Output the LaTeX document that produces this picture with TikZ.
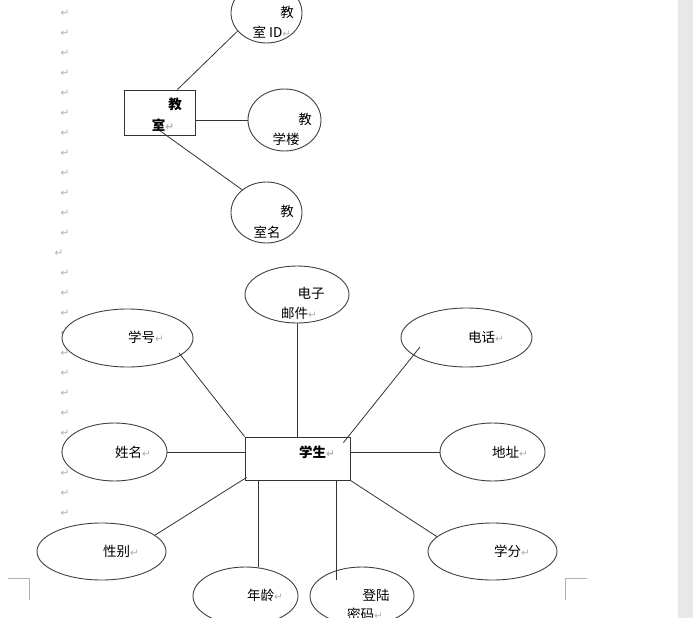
\documentclass[tikz,border=0pt]{standalone}
\usepackage{fontspec}
\setmainfont{Noto Sans CJK SC}
\newfontfamily\arrowfont{DejaVu Sans}
\usetikzlibrary{shapes.geometric,calc}
\newcommand{\pmark}{{\arrowfont\fontsize{10.5}{10.5}\selectfont\color{gray!60}↵}}
\tikzset{
  entity/.style={draw=black!80,fill=white,line width=0.9pt,inner sep=0pt},
  attr/.style={ellipse,draw=black!75,fill=white,line width=0.9pt,inner sep=0pt,
    minimum width=105pt,minimum height=58pt},
  wideattr/.style={attr,minimum width=130pt,minimum height=58pt},
  roomattr/.style={attr,minimum width=71pt,minimum height=61pt},
  lbl/.style={font=\fontsize{13.5}{15}\selectfont,inner sep=0pt},
  bodylbl/.style={lbl,font=\fontsize{13.5}{15}\selectfont\bfseries},
  link/.style={draw=black!80,line width=0.8pt}
}
\begin{document}
\begin{tikzpicture}[x=1pt,y=-1pt]
  \useasboundingbox (0,0) rectangle (693,618);
  % --- page: margin marks, corner marks, side strip ---
  \fill[gray!18] (678,0) rectangle (693,618);
  \foreach \y in {13,33,...,233} \node[lbl] (pm\y) at (65,\y) {\pmark};
  \node[lbl] (pm253) at (59,253) {\pmark};
  \foreach \y in {273,293,...,513} \node[lbl] (pm\y) at (65,\y) {\pmark};
  \draw[gray!60,line width=0.8pt] (8,578) -- (29,578) -- (29,600);
  \draw[gray!60,line width=0.8pt] (587,578) -- (565,578) -- (565,600);

  % --- classroom entity and its attributes ---
  \node[entity,minimum width=71pt,minimum height=45pt] (room) at (159.5,112.5) {};
  \node[roomattr,minimum height=60pt] (roomid) at (266.5,13) {};
  \node[roomattr,minimum width=73pt,minimum height=62pt] (building) at (284.5,120) {};
  \node[roomattr] (roomname) at (266.5,212.5) {};
  \draw[link] (room.52) -- (roomid.212);
  \draw[link] (room.-13.5) -- (room.-13.5 -| building.west);
  \draw[link] ($(room.south)+(0,-5)$) -- (roomname.137);
  \node[bodylbl] (roomt1) at (175,104) {教};
  \node[bodylbl] (roomt2) at (163,125) {室\pmark};
  \node[lbl] (roomidt1) at (287,12) {教};
  \node[lbl] (roomidt2) at (272,32) {室 ID\pmark};
  \node[lbl] (buildingt1) at (305,119) {教};
  \node[lbl] (buildingt2) at (286,139) {学楼};
  \node[lbl] (roomnamet1) at (287,211) {教};
  \node[lbl] (roomnamet2) at (267,232) {室名};

  % --- student entity and its attributes ---
  \node[entity,minimum width=105pt,minimum height=43pt] (student) at (297.5,458.5) {};
  \node[attr,minimum width=104pt,minimum height=57pt] (email) at (297,294.5) {};
  \node[wideattr,minimum width=131pt] (sid) at (127.5,338) {};
  \node[wideattr,minimum width=131pt,minimum height=59pt] (phone) at (466.5,337.5) {};
  \node[attr] (name) at (114.5,452) {};
  \node[attr] (addr) at (492.5,452) {};
  \node[wideattr,minimum width=129pt,minimum height=57pt] (gender) at (101.5,551.5) {};
  \node[wideattr,minimum width=129pt,minimum height=57pt] (credit) at (492.5,551.5) {};
  \node[attr] (age) at (245.5,596) {};
  \node[attr,minimum width=104pt] (pwd) at (362,596) {};
  \coordinate (pwdend) at ($(pwd)+(-26,-16)$);
  \draw[link] (email.south) -- (email.south |- student.north);
  \draw[link] ($(sid)+(51.5,15)$) -- (student.north west);
  \draw[link] ($(phone)+(-46.5,9.5)$) -- ($(student.north east)+(-7,6)$);
  \draw[link] (name.east) -- (name.east -| student.west);
  \draw[link] (addr.west) -- (addr.west -| student.east);
  \draw[link] (gender.17) -- ($(student.south west)+(2,-3)$);
  \draw[link] (student.south east) -- (credit.165);
  \draw[link] (age.66) -- (age.66 |- student.south);
  \draw[link] (pwdend) -- (pwdend |- student.south);
  \node[bodylbl] (studentt) at (317,452) {学生\pmark};
  \node[lbl] (emailt1) at (311,293) {电子};
  \node[lbl] (emailt2) at (299,313) {邮件\pmark};
  \node[lbl] (sidt) at (146,337) {学号\pmark};
  \node[lbl] (phonet) at (486,337) {电话\pmark};
  \node[lbl] (namet) at (133,452) {姓名\pmark};
  \node[lbl] (addrt) at (510,452) {地址\pmark};
  \node[lbl] (gendert) at (121,551) {性别\pmark};
  \node[lbl] (creditt) at (512,551) {学分\pmark};
  \node[lbl] (aget) at (265,595) {年龄\pmark};
  \node[lbl] (pwdt1) at (376,595) {登陆};
  \node[lbl] (pwdt2) at (365,614) {密码\pmark};
\end{tikzpicture}
\end{document}
